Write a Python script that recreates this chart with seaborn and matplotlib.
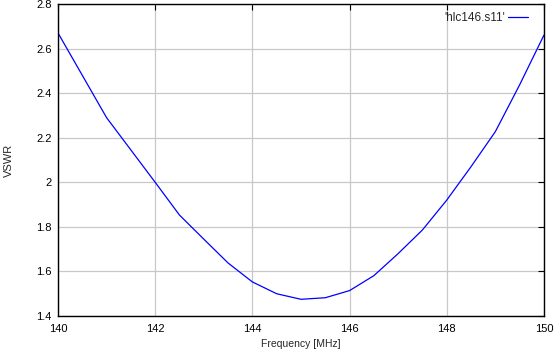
import pandas as pd
import seaborn as sns
import matplotlib
matplotlib.use("Agg")
import matplotlib.pyplot as plt

freq = [140.0, 140.5, 141.0, 141.5, 142.0, 142.5, 143.0, 143.5, 144.0, 144.5, 145.0,
        145.5, 146.0, 146.5, 147.0, 147.5, 148.0, 148.5, 149.0, 149.5, 150.0]
vswr = [2.67, 2.48, 2.29, 2.145, 2.0, 1.853, 1.745, 1.638, 1.553, 1.50, 1.475,
        1.482, 1.514, 1.581, 1.68, 1.786, 1.92, 2.07, 2.227, 2.437, 2.66]
series_name = "'hlc146.s11'"
xticks = [140, 142, 144, 146, 148, 150]
yticks = [1.4, 1.6, 1.8, 2.0, 2.2, 2.4, 2.6, 2.8]
ytick_labels = ["1.4", "1.6", "1.8", "2", "2.2", "2.4", "2.6", "2.8"]

df = pd.DataFrame({"Frequency": freq, "VSWR": vswr, "trace": series_name})

sns.set_style("white")
plt.rcParams["font.family"] = ["Liberation Sans", "DejaVu Sans"]

fig = plt.figure(figsize=(5.55, 3.57), dpi=100)
ax = fig.add_axes([0.1045, 0.1148, 0.8755, 0.874])

sns.lineplot(data=df, x="Frequency", y="VSWR", hue="trace", palette=["#0000ff"],
             linewidth=0.9, ax=ax)

ax.set_xlim(140, 150)
ax.set_ylim(1.4, 2.8)
ax.set_xticks(xticks)
ax.set_yticks(yticks)
ax.set_yticklabels(ytick_labels)
ax.grid(True, color="#c8c8c8", linewidth=0.9)
ax.tick_params(direction="in", length=4, width=0.8, top=True, right=True,
               labelsize=8, colors="black")
ax.tick_params(axis="x", pad=5.5)
ax.tick_params(axis="y", pad=4.5)
for s in ax.spines.values():
    s.set_color("black")
    s.set_linewidth(1.0)

ax.set_xlabel("Frequency [MHz]", fontsize=7.5)
ax.set_ylabel("VSWR", fontsize=8)
ax.xaxis.set_label_coords(0.5, -0.075)
ax.yaxis.set_label_coords(-0.09, 0.5)

leg = ax.legend(loc="upper right", frameon=False, markerfirst=False, fontsize=8.5,
                handlelength=1.7, handletextpad=0.3, borderaxespad=0.3,
                bbox_to_anchor=(0.985, 1.0))

fig.savefig("out.png", dpi=100)
